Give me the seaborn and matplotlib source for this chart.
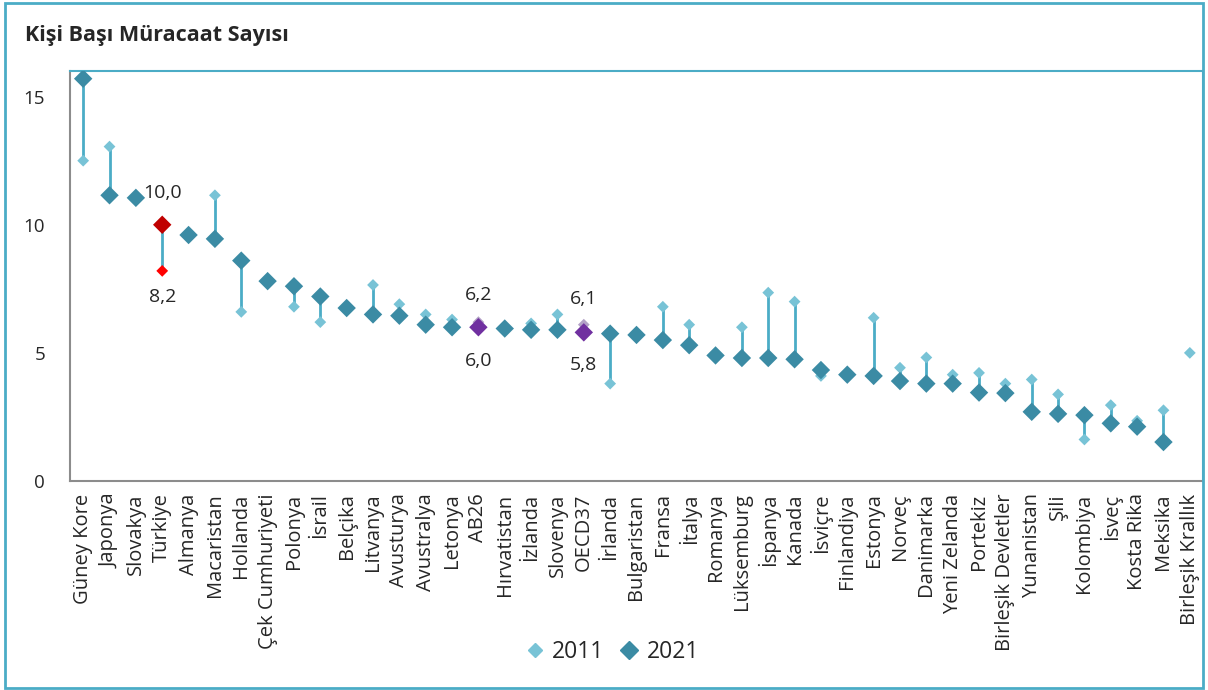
import pandas as pd
import numpy as np
import matplotlib.pyplot as plt
import seaborn as sns
from matplotlib.lines import Line2D
from matplotlib.patches import Rectangle

countries = ["Güney Kore", "Japonya", "Slovakya", "Türkiye", "Almanya", "Macaristan",
             "Hollanda", "Çek Cumhuriyeti", "Polonya", "İsrail", "Belçika", "Litvanya",
             "Avusturya", "Avustralya", "Letonya", "AB26", "Hırvatistan", "İzlanda",
             "Slovenya", "OECD37", "İrlanda", "Bulgaristan", "Fransa", "İtalya", "Romanya",
             "Lüksemburg", "İspanya", "Kanada", "İsviçre", "Finlandiya", "Estonya", "Norveç",
             "Danimarka", "Yeni Zelanda", "Portekiz", "Birleşik Devletler", "Yunanistan",
             "Şili", "Kolombiya", "İsveç", "Kosta Rika", "Meksika", "Birleşik Krallık"]

y2011 = [12.5, 13.05, 11.05, 8.2, 9.6, 11.15, 6.6, 7.8, 6.8, 6.2, 6.75, 7.65,
         6.9, 6.5, 6.3, 6.2, 5.95, 6.15, 6.5, 6.1, 3.8, 5.7, 6.8, 6.1, 4.9,
         6.0, 7.35, 7.0, 4.1, 4.15, 6.37, 4.42, 4.82, 4.15, 4.22, 3.8, 3.96,
         3.38, 1.62, 2.96, 2.35, 2.76, 5.0]

y2021 = [15.7, 11.15, 11.05, 10.0, 9.6, 9.45, 8.6, 7.8, 7.6, 7.2, 6.75, 6.5,
         6.45, 6.1, 6.0, 6.0, 5.95, 5.9, 5.9, 5.8, 5.75, 5.7, 5.5, 5.3, 4.9,
         4.8, 4.8, 4.75, 4.33, 4.15, 4.1, 3.9, 3.8, 3.8, 3.45, 3.43, 2.7,
         2.62, 2.57, 2.25, 2.12, 1.52, np.nan]

highlight = {"Türkiye": ("#FF0000", "#C00000"),
             "AB26": ("#B3A2C7", "#7030A0"),
             "OECD37": ("#B3A2C7", "#7030A0")}

light = "#78C3D6"
dark = "#3B8BA4"
teal = "#4BACC6"
grey = "#8C8C8C"

df = pd.DataFrame({"ulke": countries, "2011": y2011, "2021": y2021})
df["renk11"] = [highlight[c][0] if c in highlight else light for c in countries]
df["renk21"] = [highlight[c][1] if c in highlight else dark for c in countries]

sns.set_style("white")
plt.rcParams["font.family"] = ["Open Sans", "DejaVu Sans"]

fig = plt.figure(figsize=(12.08, 6.9), dpi=100)
ax = fig.add_axes([70 / 1208, 1 - 481 / 690, 1133 / 1208, 410 / 690])

sns.scatterplot(data=df, x="ulke", y="2011", hue="renk11",
                palette={c: c for c in df["renk11"].unique()},
                marker="D", s=36, linewidth=0, legend=False, ax=ax, zorder=3)
ax.vlines(df["ulke"], df["2011"], df["2021"], color=teal, lw=2, zorder=2)
sns.scatterplot(data=df.dropna(), x="ulke", y="2021", hue="renk21",
                palette={c: c for c in df["renk21"].unique()},
                marker="D", s=88, linewidth=0, legend=False, ax=ax, zorder=4)

# value labels for Türkiye and the averages (pixel offsets above / below)
offsets = {"Türkiye": (32, 26), "AB26": (27, 34), "OECD37": (26, 33)}
for c, (up, down) in offsets.items():
    row = df[df["ulke"] == c].iloc[0]
    top = max(row["2011"], row["2021"])
    bot = min(row["2011"], row["2021"])
    ax.annotate(f"{top:.1f}".replace(".", ","), (c, top), xytext=(0, up * 0.72),
                textcoords="offset points", ha="center", va="center", fontsize=14)
    ax.annotate(f"{bot:.1f}".replace(".", ","), (c, bot), xytext=(0, -down * 0.72),
                textcoords="offset points", ha="center", va="center", fontsize=14)

ax.set_xlim(-0.5, len(countries) - 0.5)
ax.set_ylim(0, 16)
ax.set_yticks([0, 5, 10, 15])
ax.set_xticks(range(len(countries)))
ax.set_xticklabels(countries, rotation=90, fontsize=14.5)
ax.set_xticks(np.arange(-0.5, len(countries), 1), minor=True)
ax.tick_params(axis="x", which="major", length=0, pad=9)
ax.tick_params(axis="x", which="minor", length=5, width=1.2, color=grey, direction="out")
ax.tick_params(axis="y", length=6, width=1.2, color=grey, direction="out", labelsize=13.5, pad=12)
ax.set_xlabel("")
ax.set_ylabel("")

for s in ["left", "bottom"]:
    ax.spines[s].set_color(grey)
    ax.spines[s].set_linewidth(1.5)
for s in ["top", "right"]:
    ax.spines[s].set_color(teal)
    ax.spines[s].set_linewidth(1.5)

handles = [Line2D([], [], marker="D", ls="", color=light, markersize=7, label="2011"),
           Line2D([], [], marker="D", ls="", color=dark, markersize=9.5, label="2021")]
fig.legend(handles=handles, loc="center", bbox_to_anchor=(610 / 1208, 1 - 652 / 690),
           ncol=2, frameon=False, fontsize=16.5, handletextpad=0.15, columnspacing=0.5,
           handlelength=1.2)

fig.text(25 / 1208, 1 - 36 / 690, "Kişi Başı Müracaat Sayısı", fontsize=15.5,
         fontweight="bold", va="center", ha="left")

fig.patches.append(Rectangle((5 / 1208, 2 / 690), 1198 / 1208, 685 / 690,
                             transform=fig.transFigure, fill=False,
                             edgecolor=teal, lw=2))

plt.savefig("out.png", dpi=100)
